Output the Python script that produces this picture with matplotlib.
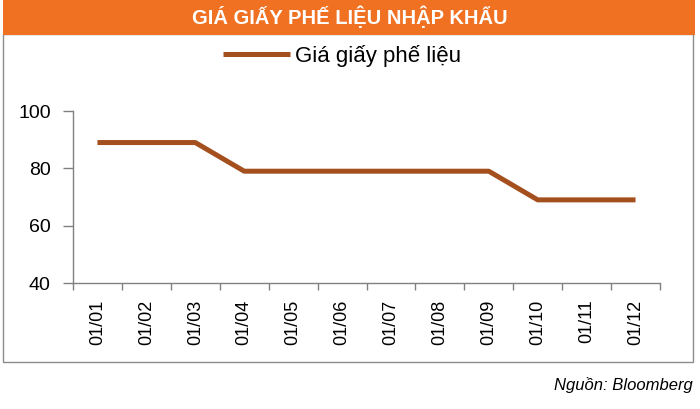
import matplotlib.pyplot as plt
from matplotlib.patches import Rectangle
from matplotlib.lines import Line2D

months = ["01/01", "01/02", "01/03", "01/04", "01/05", "01/06",
          "01/07", "01/08", "01/09", "01/10", "01/11", "01/12"]
price = [89, 89, 89, 79, 79, 79, 79, 79, 79, 69, 69, 69]
series_name = "Giá giấy phế liệu"
title = "GIÁ GIẤY PHẾ LIỆU NHẬP KHẨU"
source = "Nguồn: Bloomberg"

plt.rcParams['font.family'] = ['Liberation Sans', 'DejaVu Sans']

fig = plt.figure(figsize=(7, 4.09), dpi=100)
W, H = 700, 409

# khung xám và thanh tiêu đề cam
fig.patches.append(Rectangle((3 / W, 1 - 362 / H), 690 / W, 328 / H,
                             transform=fig.transFigure, fill=False,
                             edgecolor='#8c8c8c', linewidth=1.0))
fig.patches.append(Rectangle((3 / W, 1 - 35 / H), 692 / W, 35 / H,
                             transform=fig.transFigure, facecolor='#f07122',
                             edgecolor='none'))
fig.text(0.5, 1 - 17 / H, title, ha='center', va='center', color='white',
         fontsize=14.5, fontweight='bold')

ax = fig.add_axes([73 / W, 1 - 283 / H, 587 / W, 172 / H])
x = [i + 0.5 for i in range(len(months))]
ax.plot(x, price, color='#a4501e', linewidth=3.6, solid_capstyle='butt',
        label=series_name)

ax.set_xlim(0, len(months))
ax.set_ylim(40, 100)
ax.set_yticks([40, 60, 80, 100])
ax.set_xticks(x)
ax.set_xticklabels(months, rotation=90, fontsize=13)
ax.set_xticks(range(len(months) + 1), minor=True)
ax.tick_params(axis='x', which='major', length=0, pad=12)
ax.tick_params(axis='x', which='minor', length=5, color='#808080', width=1)
ax.tick_params(axis='y', length=7, pad=9, color='#808080', width=1, labelsize=14)

for s in ['top', 'right']:
    ax.spines[s].set_visible(False)
for s in ['left', 'bottom']:
    ax.spines[s].set_color('#808080')
    ax.spines[s].set_linewidth(1)

fig.legend(handles=[Line2D([], [], color='#a4501e', linewidth=3.6,
                           solid_capstyle='butt')],
           labels=[series_name], loc='center', bbox_to_anchor=(342 / W, 1 - 56 / H),
           frameon=False, fontsize=16, handlelength=3.0, handletextpad=0.25)

fig.text(693 / W, 1 - 385 / H, source, ha='right', va='center', fontsize=12,
         style='italic')

fig.savefig('out.png', dpi=100)
